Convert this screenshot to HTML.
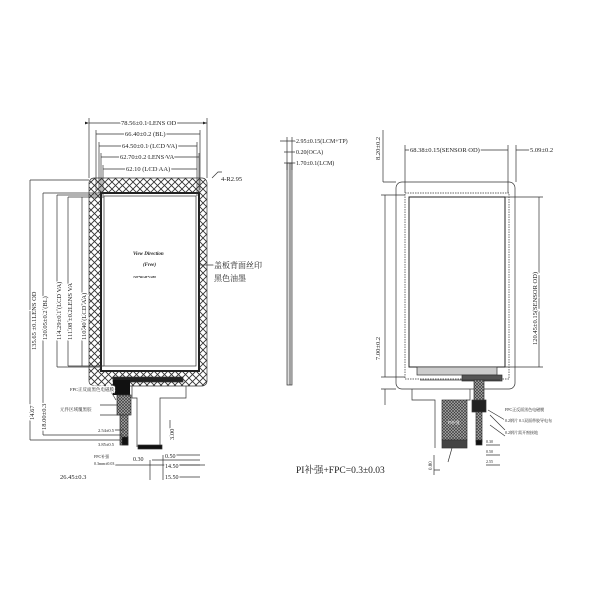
<!DOCTYPE html>
<html><head><meta charset="utf-8"><style>
html,body{margin:0;padding:0;background:#fff;}
svg{display:block}
text{font-family:"Liberation Serif","Noto Serif CJK SC",serif;fill:#222;paint-order:stroke;stroke:#fff;stroke-width:2.5px;}
.c{font-family:"Liberation Sans","Noto Sans CJK SC",sans-serif;}
</style></head><body>
<svg width="600" height="600" viewBox="0 0 600 600" xmlns="http://www.w3.org/2000/svg">
<defs>
<pattern id="x" width="7" height="7" patternUnits="userSpaceOnUse">
<rect width="7" height="7" fill="#fff"/><path d="M0 0L7 7M7 0L0 7" stroke="#333" stroke-width="0.9"/></pattern>
<pattern id="h" width="3" height="3" patternUnits="userSpaceOnUse">
<rect width="3" height="3" fill="#aaa"/><path d="M0 0L3 3M3 0L0 3" stroke="#333" stroke-width="0.6"/></pattern>
<marker id="a" markerWidth="6" markerHeight="4" refX="6" refY="2" orient="auto"><path d="M0 0L6 2L0 4z" fill="#222"/></marker>
</defs>
<g stroke="#333" stroke-width="0.7" fill="none">
<!-- LEFT VIEW -->
<rect x="89" y="178" width="118" height="208" rx="5" fill="url(#x)"/>
<rect x="101" y="193" width="98" height="178" fill="#fff" stroke="#222" stroke-width="2"/>
<rect x="104" y="196" width="92" height="170" fill="#fff"/>
<rect x="113" y="377" width="70" height="5" fill="#222"/>
<rect x="113" y="380" width="17" height="15" fill="#111" stroke="none"/>
<rect x="117" y="395" width="14" height="20" fill="url(#h)"/>
<rect x="120" y="415" width="8" height="30" fill="url(#h)"/>
<rect x="122" y="437" width="6" height="8" fill="#111"/>
<path d="M132 386V398H137V447M160 447V398H186V386"/>
<rect x="138" y="445" width="24" height="4" fill="#111"/>
<line x1="89" y1="123" x2="207" y2="123" marker-start="url(#a)" marker-end="url(#a)"/>
<line x1="96" y1="134" x2="200" y2="134"/>
<line x1="99" y1="146" x2="197" y2="146"/>
<line x1="101" y1="157" x2="199" y2="157"/>
<line x1="103" y1="169" x2="197" y2="169"/>
<path d="M89 118V178M207 118V178M96 130V190M200 130V190M99 142V193M197 142V193M101 153V193M103 165V196M199 153V193M197 165V196"/>
<path d="M30 180V440M43 193V435M57 195V367M68 197V366M82 197V366"/>
<path d="M30 180H89M43 193H100M57 195H101M68 197H103M82 197H104M57 367H101M68 366H103M82 366H104"/>
<path d="M30 440H120M43 435H122M100 415H124M100 430H124M96 465H205M150 460V480M163 455V480"/>
<path d="M170 455H200M170 465H200M170 477H200M152 460H200"/>
<path d="M212 178L218 172H222M200 265H214"/>
<path d="M170 420V440"/>
<path d="M110 390L116 400M100 405L118 405"/>
<!-- SIDE VIEW -->
<rect x="287" y="163" width="5" height="222" fill="#ddd"/>
<line x1="290" y1="163" x2="290" y2="385"/>
<path d="M280 141H298M284 152H298M284 163H298M287 137V170M292 137V170"/>
<!-- RIGHT VIEW -->
<rect x="396" y="182" width="119" height="207" rx="6"/>
<rect x="405" y="193" width="104" height="186" fill="#fff" stroke-dasharray="1.5 1"/>
<rect x="409" y="197" width="96" height="170" fill="#fff" stroke="#222" stroke-width="1"/>
<rect x="417" y="367" width="80" height="8" fill="#ccc"/>
<rect x="462" y="375" width="40" height="6" fill="#555"/>
<path d="M412 389V400H435V448M466 400H470V389M420 380H500"/>
<rect x="442" y="400" width="25" height="40" fill="url(#h)"/>
<rect x="442" y="440" width="25" height="8" fill="#444"/>
<rect x="474" y="380" width="10" height="22" fill="url(#h)"/>
<rect x="472" y="400" width="14" height="12" fill="#222"/>
<rect x="476" y="412" width="6" height="30" fill="url(#h)"/>
<rect x="476" y="440" width="6" height="5" fill="#111"/>
<path d="M405 150H508M405 145V193M508 145V193M516 150H540M516 145V182M383 182H396M383 130V182"/>
<path d="M385 195V377M381 195H405M381 377H405M385 389V405M381 389H396"/>
<path d="M539 197V367M505 197H543M505 367H543"/>
<path d="M486 445H500M486 455H500M486 465H500M434 455V475M434 470H440"/>
<path d="M488 410L505 420M490 415L505 430M490 425L505 436M452 448L448 462"/>
</g>
<g font-size="6.5">
<text x="121" y="125">78.56±0.1 LENS OD</text>
<text x="125" y="136">66.40±0.2 (BL)</text>
<text x="122" y="148">64.50±0.1 (LCD VA)</text>
<text x="120" y="159">62.70±0.2 LENS VA</text>
<text x="126" y="171">62.10 (LCD AA)</text>
<text x="221" y="181">4-R2.95</text>
<text x="296" y="143" font-size="6">2.95±0.15(LCM+TP)</text>
<text x="296" y="154" font-size="6">0.20(OCA)</text>
<text x="296" y="165" font-size="6">1.70±0.1(LCM)</text>
<text x="410" y="152">68.38±0.15(SENSOR OD)</text>
<text x="530" y="152">5.09±0.2</text>
<text x="165" y="458" font-size="6">0.50</text>
<text x="165" y="468" font-size="6">14.50</text>
<text x="165" y="479" font-size="6">15.50</text>
<text x="60" y="479" font-size="6.5">26.45±0.3</text>
<text x="133" y="461" font-size="6">0.30</text>
<text x="98" y="432" font-size="4.5">2.54±0.5</text>
<text x="98" y="446" font-size="4.5">3.85±0.5</text>
<text x="296" y="473" font-size="9.5">PI补强+FPC=0.3±0.03</text>
<text x="486" y="443" font-size="4">0.30</text>
<text x="486" y="453" font-size="4">0.50</text>
<text x="486" y="463" font-size="4">2.55</text>
</g>
<g font-size="6.5">
<text transform="translate(36,350) rotate(-90)">135.65 ±0.1LENS OD</text>
<text transform="translate(47,340) rotate(-90)">120.05±0.2 (BL)</text>
<text transform="translate(61,340) rotate(-90)">114.29±0.1 (LCD VA)</text>
<text transform="translate(72,340) rotate(-90)">111.08 ±0.2LENS VA</text>
<text transform="translate(86,340) rotate(-90)">110.40 (LCD AA)</text>
<text transform="translate(46,430) rotate(-90)">18.00±0.3</text>
<text transform="translate(34,420) rotate(-90)">14.67</text>
<text transform="translate(174,440) rotate(-90)">3.00</text>
<text transform="translate(380,160) rotate(-90)">8.20±0.2</text>
<text transform="translate(380,360) rotate(-90)">7.00±0.2</text>
<text transform="translate(537,345) rotate(-90)">120.45±0.15(SENSOR OD)</text>
<text transform="translate(432,470) rotate(-90)" font-size="5">0.80</text>
</g>
<g class="c">
<text x="214" y="268" font-size="8">盖板背面丝印</text>
<text x="214" y="281" font-size="8">黑色油墨</text>
<text x="70" y="391" font-size="4.5">FPC正反面黑色电磁膜</text>
<text x="60" y="411" font-size="4.5">元件区域覆黑胶</text>
<text x="94" y="458" font-size="4">FPC补强</text>
<text x="94" y="465" font-size="4">0.3mm±0.03</text>
<text x="505" y="411" font-size="4">FPC正反面黑色电磁膜</text>
<text x="505" y="422" font-size="4">0.2钢片 0.1双面带胶导电布</text>
<text x="505" y="434" font-size="4">0.2钢片需开窗接地</text>
<text x="448" y="424" font-size="4" style="fill:#fff;stroke:none">PI补强</text>
</g>
<g font-family="Liberation Serif" font-style="italic" font-weight="bold">
<text x="133" y="255" font-size="5">View Direction</text>
<text x="143" y="266" font-size="5">(Free)</text>
<text x="133" y="278" font-size="3.5">720*RGB*1280</text>
</g>
</svg>
</body></html>
